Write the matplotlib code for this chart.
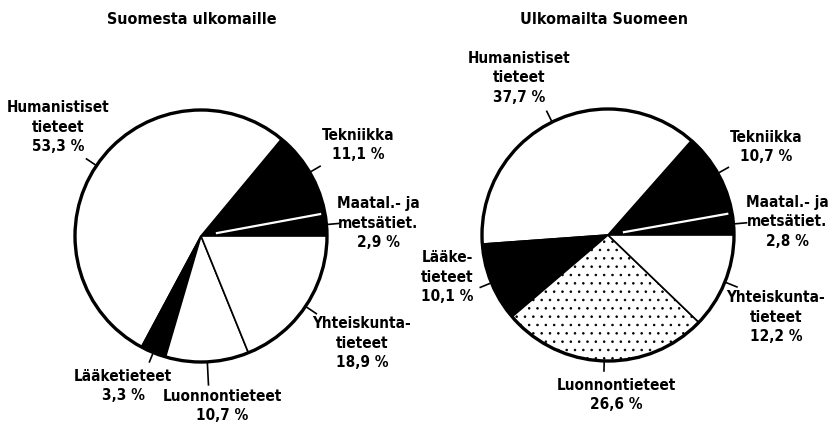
import matplotlib
matplotlib.use('Agg')
import numpy as np
import matplotlib.pyplot as plt

plt.rcParams['font.family'] = ['DejaVu Sans']
plt.rcParams['font.stretch'] = 'condensed'
plt.rcParams['hatch.linewidth'] = 0.6

#%% Data: shares of researcher exchange by field (%), slices counter-clockwise from 3 o'clock
titles = ['Suomesta ulkomaille', 'Ulkomailta Suomeen']

names_out = ['Maatal.- ja\nmetsätiet.', 'Tekniikka', 'Humanistiset\ntieteet',
             'Lääketieteet', 'Luonnontieteet', 'Yhteiskunta-\ntieteet']
names_in = ['Maatal.- ja\nmetsätiet.', 'Tekniikka', 'Humanistiset\ntieteet',
            'Lääke-\ntieteet', 'Luonnontieteet', 'Yhteiskunta-\ntieteet']

share_out = [2.9, 11.1, 53.3, 3.3, 10.7, 18.9]
share_in = [2.8, 10.7, 37.7, 10.1, 26.6, 12.2]

#%% Layout (pixel positions, y measured from top)
W, H = 834, 426
centres = [(201, 236), (608, 235)]
radius = 126
title_pos = [(192, 20), (604, 20)]

label_pos = [
    [(378, 223), (358, 145), (58, 127), (123, 386), (222, 406), (362, 343)],
    [(787, 222), (766, 147), (519, 78), (447, 277), (616, 395), (776, 317)],
]
leader_len = [
    [12, 12, 12, 10, 23, 13],
    [13, 12, 12, 12, 10, 13],
]

fills = ['black', 'black', 'white', 'black', 'white', 'white']
hatches = [[None] * 6, [None, None, None, None, '..', None]]


def px(x, y):
    return x, H - y


def pct(v):
    return f'{v:.1f}'.replace('.', ',') + ' %'


fig = plt.figure(figsize=(W / 100, H / 100), dpi=100)
ax = fig.add_axes([0, 0, 1, 1])

for k, (names, vals) in enumerate([(names_out, share_out), (names_in, share_in)]):
    cx, cy = px(*centres[k])
    wedges, _ = ax.pie(vals, colors=fills, startangle=0, counterclock=True,
                       center=(cx, cy), radius=radius, frame=True,
                       wedgeprops=dict(edgecolor='black', linewidth=1.2))
    for w, h in zip(wedges, hatches[k]):
        if h:
            w.set_hatch(h)

    # white divider between the two black slices
    theta = np.deg2rad(wedges[0].theta2)
    r = np.array([0.12, 0.97]) * radius
    ax.plot(cx + r * np.cos(theta), cy + r * np.sin(theta),
            color='white', lw=1.6, solid_capstyle='butt', zorder=4)

    # heavy outline
    ax.add_patch(plt.Circle((cx, cy), radius, fill=False, ec='black', lw=2.4, zorder=5))

    # leader ticks and labels
    for i, w in enumerate(wedges):
        mid = np.deg2rad((w.theta1 + w.theta2) / 2)
        r = np.array([radius, radius + leader_len[k][i]])
        ax.plot(cx + r * np.cos(mid), cy + r * np.sin(mid),
                color='black', lw=1.2, zorder=5)
        tx, ty = px(*label_pos[k][i])
        ax.text(tx, ty, f'{names[i]}\n{pct(vals[i])}', ha='center', va='center',
                multialignment='center', fontsize=11, fontweight='bold',
                linespacing=1.35)

    ax.text(*px(*title_pos[k]), titles[k], ha='center', va='center',
            fontsize=11.5, fontweight='bold')

ax.set_xlim(0, W)
ax.set_ylim(0, H)
ax.set_aspect('equal')
ax.axis('off')

fig.savefig('out.png', dpi=100)
